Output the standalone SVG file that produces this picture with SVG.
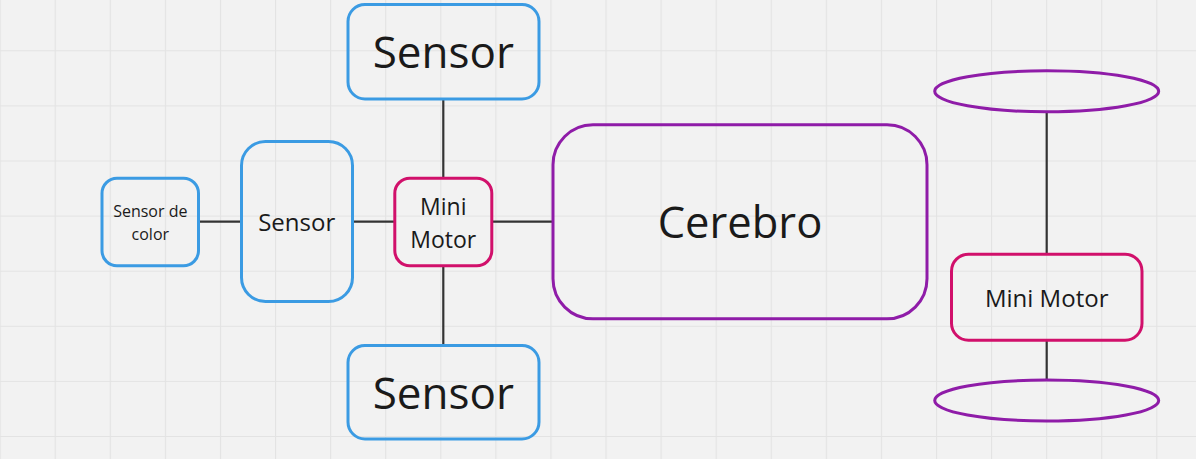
<svg xmlns="http://www.w3.org/2000/svg" width="1196" height="459" viewBox="0 0 1196 459">
<defs>
<pattern id="grid" patternUnits="userSpaceOnUse" x="-0.4" y="-4.8" width="55.08" height="55.1">
<rect width="55.08" height="55.1" fill="#f2f2f2"/>
<path d="M0.5 0V55.1M0 0.5H55.08" stroke="#e3e3e3" stroke-width="1.2" fill="none"/>
</pattern>
</defs>
<style>
.blue{fill:none;stroke:#3b9be3;stroke-width:3}
.pink{fill:none;stroke:#d1106b;stroke-width:3}
.purple{fill:none;stroke:#8f1ca8;stroke-width:3}
.conn line{stroke:#333;stroke-width:2.2}
text{font-family:"Open Sans","Noto Sans",sans-serif;fill:#1a1a1a;text-anchor:middle}
</style>
<rect width="1196" height="459" fill="url(#grid)"/>
<g id="connectors" class="conn">
<line x1="199" y1="221.7" x2="241" y2="221.7"/>
<line x1="353" y1="221.7" x2="395" y2="221.7"/>
<line x1="492" y1="221.7" x2="553" y2="221.7"/>
<line x1="443.3" y1="99" x2="443.3" y2="178"/>
<line x1="443.3" y1="266" x2="443.3" y2="345"/>
<line x1="1046.7" y1="112.5" x2="1046.7" y2="254"/>
<line x1="1046.7" y1="340" x2="1046.7" y2="379"/>
</g>
<g id="sensor-top">
<rect class="blue" x="348" y="4.5" width="191" height="94.5" rx="17"/>
<text x="443.3" y="68" font-size="44">Sensor</text>
</g>
<g id="sensor-bottom">
<rect class="blue" x="348" y="345.5" width="191" height="93.5" rx="17"/>
<text x="443.3" y="409" font-size="44">Sensor</text>
</g>
<g id="sensor-left">
<rect class="blue" x="241.5" y="141.5" width="111" height="160" rx="24"/>
<text x="296.7" y="231" font-size="24">Sensor</text>
</g>
<g id="sensor-color">
<rect class="blue" x="102" y="178.2" width="96.5" height="87.6" rx="15"/>
<text x="150.3" y="217.3" font-size="16">Sensor de</text>
<text x="150.3" y="240" font-size="16">color</text>
</g>
<g id="mini-motor-left">
<rect class="pink" x="394.8" y="178.2" width="97" height="87.6" rx="15"/>
<text x="443.3" y="215" font-size="23">Mini</text>
<text x="443.3" y="248" font-size="23">Motor</text>
</g>
<g id="cerebro">
<rect class="purple" x="553" y="124.8" width="374" height="194" rx="40"/>
<text x="740" y="238.3" font-size="43.5">Cerebro</text>
</g>
<g id="wheel-top">
<ellipse class="purple" cx="1046.7" cy="91.3" rx="112" ry="20.5"/>
</g>
<g id="mini-motor-right">
<rect class="pink" x="951.5" y="254.2" width="190.5" height="86" rx="17"/>
<text x="1046.7" y="306.7" font-size="24">Mini Motor</text>
</g>
<g id="wheel-bottom">
<ellipse class="purple" cx="1046.7" cy="400.5" rx="112" ry="20.5"/>
</g>
</svg>
